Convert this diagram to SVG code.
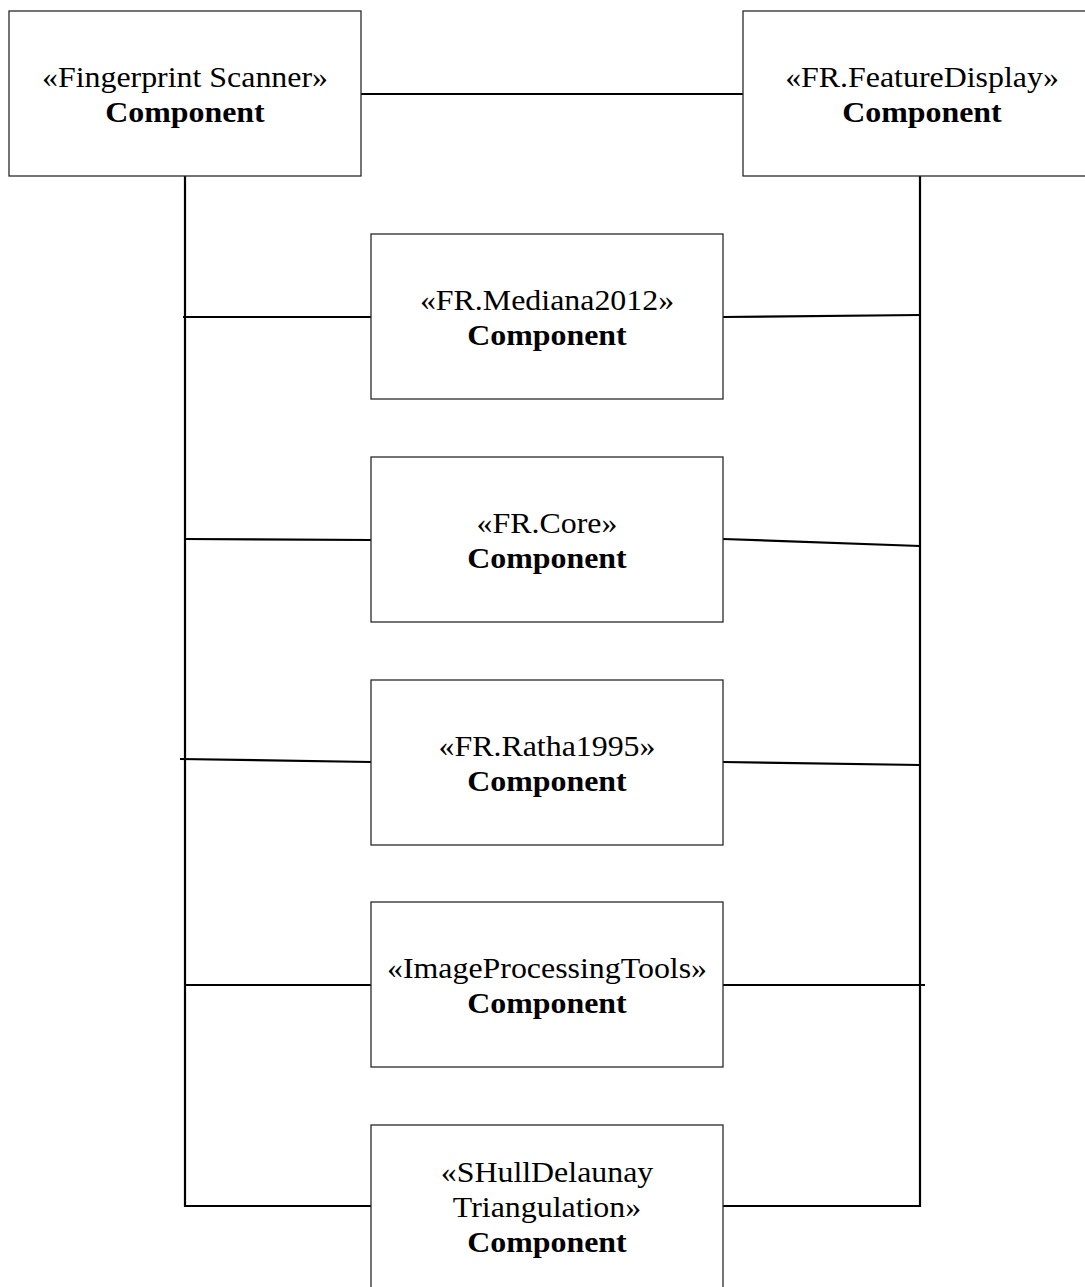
<svg xmlns="http://www.w3.org/2000/svg" width="1085" height="1287" viewBox="0 0 1085 1287">
  <style>
    .box { fill: #ffffff; stroke: #2a2a2a; stroke-width: 1.3; }
    .wire { fill: none; stroke: #000000; stroke-width: 2.2; }
    .st { font-size: 29px; fill: #000000; text-anchor: middle; }
    .nm { font-size: 29px; font-weight: bold; fill: #000000; text-anchor: middle; }
  </style>

  <rect width="1085" height="1287" fill="#ffffff"/>

  <!-- connectors -->
  <g id="connectors">
    <line class="wire" x1="361" y1="94" x2="743" y2="94"/>
    <!-- left bus -->
    <polyline class="wire" points="185,176 185,1206 371,1206"/>
    <!-- right bus -->
    <polyline class="wire" points="920,176 920,1206 723,1206"/>
    <!-- left branches -->
    <line class="wire" x1="183" y1="317" x2="371" y2="317"/>
    <line class="wire" x1="185" y1="539" x2="371" y2="540"/>
    <line class="wire" x1="180" y1="759" x2="371" y2="762"/>
    <line class="wire" x1="185" y1="985" x2="371" y2="985"/>
    <!-- right branches -->
    <line class="wire" x1="723" y1="317" x2="920" y2="315"/>
    <line class="wire" x1="723" y1="539" x2="920" y2="546"/>
    <line class="wire" x1="723" y1="762" x2="920" y2="765"/>
    <line class="wire" x1="723" y1="985" x2="925" y2="985"/>
  </g>

  <!-- labels are set in a slightly widened serif -->
  <g font-family="Liberation Serif, Tinos, DejaVu Serif, serif">
    <g id="fingerprint-scanner">
      <rect class="box" x="9" y="11" width="352" height="165"/>
      <g transform="translate(185,0) scale(1.1,1)">
        <text class="st" x="0" y="87">«Fingerprint Scanner»</text>
        <text class="nm" x="0" y="122">Component</text>
      </g>
    </g>

    <g id="feature-display">
      <rect class="box" x="743" y="11" width="354" height="165"/>
      <g transform="translate(922,0) scale(1.1,1)">
        <text class="st" x="0" y="87">«FR.FeatureDisplay»</text>
        <text class="nm" x="0" y="122">Component</text>
      </g>
    </g>

    <g id="mediana2012">
      <rect class="box" x="371" y="234" width="352" height="165"/>
      <g transform="translate(547,0) scale(1.1,1)">
        <text class="st" x="0" y="310">«FR.Mediana2012»</text>
        <text class="nm" x="0" y="345">Component</text>
      </g>
    </g>

    <g id="core">
      <rect class="box" x="371" y="457" width="352" height="165"/>
      <g transform="translate(547,0) scale(1.1,1)">
        <text class="st" x="0" y="533">«FR.Core»</text>
        <text class="nm" x="0" y="568">Component</text>
      </g>
    </g>

    <g id="ratha1995">
      <rect class="box" x="371" y="680" width="352" height="165"/>
      <g transform="translate(547,0) scale(1.1,1)">
        <text class="st" x="0" y="756">«FR.Ratha1995»</text>
        <text class="nm" x="0" y="791">Component</text>
      </g>
    </g>

    <g id="image-processing-tools">
      <rect class="box" x="371" y="902" width="352" height="165"/>
      <g transform="translate(547,0) scale(1.1,1)">
        <text class="st" x="0" y="978">«ImageProcessingTools»</text>
        <text class="nm" x="0" y="1013">Component</text>
      </g>
    </g>

    <g id="shull-delaunay">
      <rect class="box" x="371" y="1125" width="352" height="170"/>
      <g transform="translate(547,0) scale(1.1,1)">
        <text class="st" x="0" y="1182">«SHullDelaunay</text>
        <text class="st" x="0" y="1217">Triangulation»</text>
        <text class="nm" x="0" y="1252">Component</text>
      </g>
    </g>
  </g>
</svg>
